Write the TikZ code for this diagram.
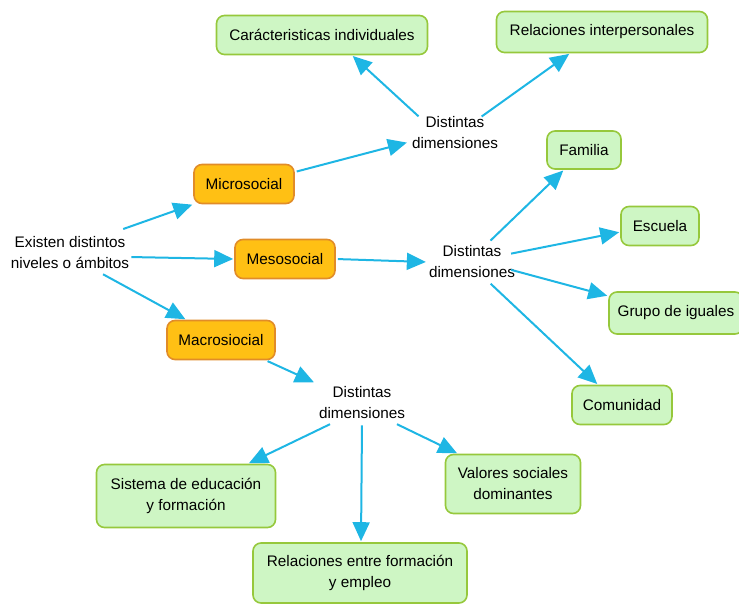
\documentclass[tikz,border=0pt]{standalone}
\usepackage{fontspec}
\setmainfont{Liberation Sans}
\usetikzlibrary{arrows.meta}
\definecolor{arrowc}{RGB}{30,182,228}
\definecolor{greenfill}{RGB}{206,246,196}
\definecolor{greenline}{RGB}{150,200,60}
\definecolor{orangefill}{RGB}{255,192,20}
\definecolor{orangeline}{RGB}{225,140,40}
\begin{document}
\begin{tikzpicture}[x=1pt,y=-1pt,
  every node/.style={font=\fontsize{15.3}{21}\selectfont, align=center, inner sep=0pt},
  greenbox/.style={draw=greenline, fill=greenfill, line width=1.6pt, rounded corners=8pt},
  orangebox/.style={draw=orangeline, fill=orangefill, line width=1.6pt, rounded corners=8pt},
  plain/.style={inner sep=2pt},
  link/.style={draw=arrowc, line width=2pt, -{Triangle[length=19pt,width=17pt]}, shorten <=2pt, shorten >=1pt}
]
\useasboundingbox (0,0) rectangle (739,603);
% green boxes
\node[greenbox, minimum width=211pt, minimum height=39pt] (car) at (322,35) {Carácteristicas individuales};
\node[greenbox, minimum width=211pt, minimum height=41pt] (rel) at (602,32) {Relaciones interpersonales};
\node[greenbox, minimum width=74pt, minimum height=38pt] (fam) at (584,150) {Familia};
\node[greenbox, minimum width=78pt, minimum height=39pt] (esc) at (660,226) {Escuela};
\node[greenbox, minimum width=134pt, minimum height=42pt] (gru) at (676,313) {Grupo de iguales};
\node[greenbox, minimum width=100pt, minimum height=39pt] (com) at (622,405) {Comunidad};
\node[greenbox, minimum width=179pt, minimum height=63pt] (sis) at (186,496) {Sistema de educación\\y formación};
\node[greenbox, minimum width=135pt, minimum height=59pt] (val) at (513,484) {Valores sociales\\dominantes};
\node[greenbox, minimum width=214pt, minimum height=60pt] (ref) at (360,573) {Relaciones entre formación\\y empleo};
% orange boxes
\node[orangebox, minimum width=100pt, minimum height=39pt] (mic) at (244,184) {Microsocial};
\node[orangebox, minimum width=100pt, minimum height=39pt] (mes) at (285,259) {Mesosocial};
\node[orangebox, minimum width=108pt, minimum height=39pt] (mac) at (221,340) {Macrosiocial};
% plain text nodes
\node[plain] (exi) at (70,253) {Existen distintos\\niveles o ámbitos};
\node[plain] (dd1) at (455,133) {Distintas\\dimensiones};
\node[plain] (dd2) at (472,262) {Distintas\\dimensiones};
\node[plain] (dd3) at (362,403) {Distintas\\dimensiones};
% connectors
\draw[link] ([xshift=-10pt,yshift=5pt]exi.north east) -- (mic.south west);
\draw[link] ([xshift=-2pt,yshift=-4pt]exi.east) -- (mes.west);
\draw[link] ([xshift=-30pt,yshift=-2pt]exi.south east) -- ([xshift=20pt]mac.north west);
\draw[link] ([yshift=12pt]mic.east) -- ([xshift=-2pt,yshift=9pt]dd1.south west);
\draw[link] ([xshift=-35pt,yshift=-3pt]dd1.north) -- ([xshift=30pt]car.south);
\draw[link] ([xshift=25pt,yshift=-3pt]dd1.north) -- ([xshift=-32pt]rel.south);
\draw[link] (mes.east) -- (dd2.west);
\draw[link] ([xshift=17pt,yshift=20pt]dd2.center) -- ([xshift=-20pt]fam.south);
\draw[link] ([xshift=-8pt,yshift=8pt]dd2.east) -- ([yshift=-6pt]esc.west);
\draw[link] ([xshift=-8pt,yshift=11pt]dd2.south east) -- ([yshift=17pt]gru.west);
\draw[link] ([xshift=-28pt,yshift=-2pt]dd2.south east) -- ([xshift=-24pt]com.north);
\draw[link] ([xshift=-10pt]mac.south east) -- ([xshift=-2pt,yshift=2pt]dd3.north west);
\draw[link] ([xshift=15pt,yshift=-2pt]dd3.south west) -- ([xshift=62pt]sis.north);
\draw[link] ([yshift=-2pt]dd3.south) -- ([xshift=1pt]ref.north);
\draw[link] ([xshift=-12pt,yshift=-2pt]dd3.south east) -- ([xshift=-55pt]val.north);
\end{tikzpicture}
\end{document}
